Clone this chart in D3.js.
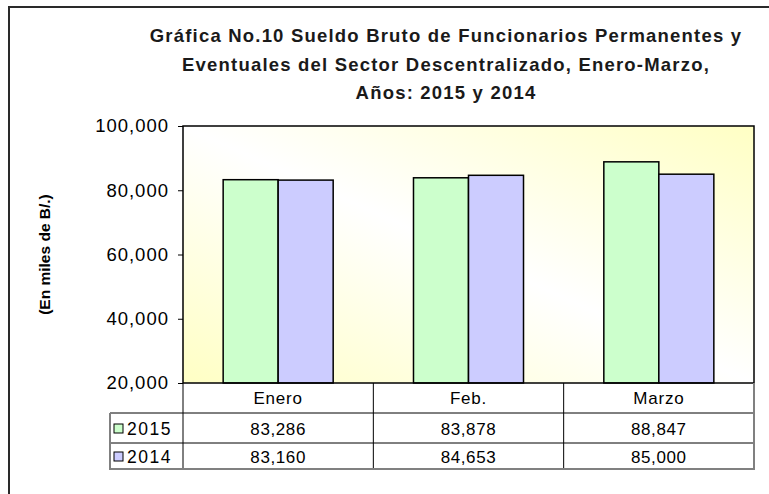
<!DOCTYPE html>
<html>
<head>
<meta charset="utf-8">
<script src="https://cdn.jsdelivr.net/npm/d3@7"></script>
<style>
  body { margin: 0; background: #fff; }
  svg { display: block; font-family: "Liberation Sans", Arial, sans-serif; }
</style>
</head>
<body>
<svg id="chart" width="769" height="494"></svg>
<script>
// data
var months = ["Enero", "Feb.", "Marzo"];
var years = ["2015", "2014"];
var values2015 = [83286, 83878, 88847];
var values2014 = [83160, 84653, 85000];
var yTicks = [20000, 40000, 60000, 80000, 100000];
var titleLines = [
    "Gráfica No.10 Sueldo Bruto de Funcionarios Permanentes y",
    "Eventuales del Sector Descentralizado, Enero-Marzo,",
    "Años: 2015 y 2014"
];
var yTitle = "(En miles de B/.)";

var colors = { "2015": "#CCFFCC", "2014": "#CCCCFF" };
var series = { "2015": values2015, "2014": values2014 };

// layout
var plot = { left: 183, right: 754, top: 126, bottom: 383 };
var rowH = [30, 30, 26];

var svg = d3.select("#chart");

var x = d3.scaleBand()
    .domain(months)
    .range([plot.left, plot.right]);

var xInner = d3.scaleBand()
    .domain(years)
    .range([0, x.bandwidth()])
    .paddingOuter(0.73);

var y = d3.scaleLinear()
    .domain([20000, 100000])
    .range([plot.bottom, plot.top]);

var fmt = d3.format(",");

// outer frame (cropped)
svg.append("path")
    .attr("d", "M9,494 V7 H769")
    .attr("fill", "none")
    .attr("stroke", "#2a2a2a")
    .attr("stroke-width", 2);

// plot background gradient
var grad = svg.append("defs").append("linearGradient")
    .attr("id", "bg")
    .attr("x1", 0).attr("y1", 1)
    .attr("x2", 1).attr("y2", 0);
grad.append("stop").attr("offset", "0%").attr("stop-color", "#FFFFC4");
grad.append("stop").attr("offset", "50%").attr("stop-color", "#FFFFFF");
grad.append("stop").attr("offset", "100%").attr("stop-color", "#FFFFC4");

svg.append("rect")
    .attr("x", plot.left).attr("y", plot.top)
    .attr("width", plot.right - plot.left)
    .attr("height", plot.bottom - plot.top)
    .attr("fill", "url(#bg)");

// bars
var groups = svg.selectAll(".month")
    .data(months)
    .enter()
    .append("g")
    .attr("transform", function (d) { return "translate(" + x(d) + ",0)"; });

groups.selectAll("rect")
    .data(function (d, i) { return years.map(function (yr) { return { year: yr, value: series[yr][i] }; }); })
    .enter()
    .append("rect")
    .attr("x", function (d) { return xInner(d.year); })
    .attr("y", function (d) { return y(d.value); })
    .attr("width", xInner.bandwidth())
    .attr("height", function (d) { return plot.bottom - y(d.value); })
    .attr("fill", function (d) { return colors[d.year]; })
    .attr("stroke", "#000")
    .attr("stroke-width", 1.5);

// plot border
svg.append("rect")
    .attr("x", plot.left).attr("y", plot.top)
    .attr("width", plot.right - plot.left)
    .attr("height", plot.bottom - plot.top)
    .attr("fill", "none")
    .attr("stroke", "#000")
    .attr("stroke-width", 1.5);

// y axis
var yAxis = d3.axisLeft(y)
    .tickValues(yTicks)
    .tickFormat(fmt)
    .tickSize(5)
    .tickPadding(9);

var yg = svg.append("g")
    .attr("transform", "translate(" + plot.left + ",0)")
    .call(yAxis);
yg.select(".domain").remove();
yg.selectAll("line").attr("stroke", "#000");
yg.selectAll("text")
    .attr("font-family", "Liberation Sans, Arial, sans-serif")
    .attr("font-size", 18.5)
    .attr("letter-spacing", 1)
    .attr("fill", "#000");

// y title
svg.append("text")
    .attr("transform", "translate(50," + ((plot.top + plot.bottom) / 2) + ") rotate(-90)")
    .attr("text-anchor", "middle")
    .attr("font-size", 15.5)
    .attr("font-weight", "bold")
    .text(yTitle);

// title
svg.append("g").selectAll("text")
    .data(titleLines)
    .enter()
    .append("text")
    .attr("x", 446)
    .attr("y", function (d, i) { return 42 + i * 28.5; })
    .attr("text-anchor", "middle")
    .attr("font-size", 18.5)
    .attr("font-weight", "bold")
    .attr("letter-spacing", 1.2)
    .attr("fill", "#1a1a1a")
    .text(function (d) { return d; });

// data table
var tableLeft = 110;
var rowTop = [plot.bottom, plot.bottom + rowH[0], plot.bottom + rowH[0] + rowH[1]];
var tableBottom = rowTop[2] + rowH[2];
var table = svg.append("g");

// horizontal lines
table.append("line")
    .attr("x1", tableLeft).attr("x2", plot.right)
    .attr("y1", rowTop[1]).attr("y2", rowTop[1])
    .attr("stroke", "#000");
table.append("line")
    .attr("x1", tableLeft).attr("x2", plot.right)
    .attr("y1", rowTop[2]).attr("y2", rowTop[2])
    .attr("stroke", "#000");

// vertical lines
table.selectAll(".vline")
    .data(months)
    .enter()
    .append("line")
    .attr("x1", function (d) { return x(d); })
    .attr("x2", function (d) { return x(d); })
    .attr("y1", plot.bottom).attr("y2", tableBottom)
    .attr("stroke", "#000");

// shadowed outer edges
table.append("path")
    .attr("d", "M" + tableLeft + "," + rowTop[1] + " V" + tableBottom + " H" + plot.right + " V" + plot.bottom)
    .attr("fill", "none")
    .attr("stroke", "#808080")
    .attr("stroke-width", 2);

// category row
table.selectAll(".cat")
    .data(months)
    .enter()
    .append("text")
    .attr("x", function (d) { return x(d) + x.bandwidth() / 2; })
    .attr("y", rowTop[0] + 21)
    .attr("text-anchor", "middle")
    .attr("font-size", 17)
    .attr("letter-spacing", 0.8)
    .text(function (d) { return d; });

// value rows
years.forEach(function (yr, r) {
    var ty = rowTop[r + 1] + (r == 0 ? 22 : 20);
    table.append("rect")
        .attr("x", 114).attr("y", ty - 11)
        .attr("width", 9).attr("height", 9)
        .attr("fill", colors[yr])
        .attr("stroke", "#000")
        .attr("stroke-width", 1);
    table.append("text")
        .attr("x", 127).attr("y", ty)
        .attr("font-size", 17.5)
        .attr("letter-spacing", 1.5)
        .text(yr);
    table.selectAll(".v" + yr)
        .data(series[yr])
        .enter()
        .append("text")
        .attr("x", function (d, i) { return x(months[i]) + x.bandwidth() / 2; })
        .attr("y", ty)
        .attr("text-anchor", "middle")
        .attr("font-size", 17)
        .attr("letter-spacing", 0.6)
        .text(function (d) { return fmt(d); });
});
</script>
</body>
</html>
